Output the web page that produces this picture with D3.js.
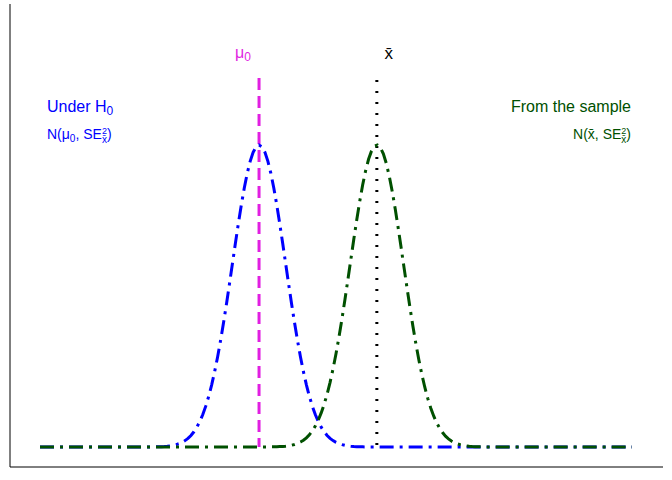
<!DOCTYPE html><html><head><script src="https://cdn.jsdelivr.net/npm/d3@7"></script>
<style>body{margin:0}text{font-family:"Liberation Sans",Arial,sans-serif}</style></head><body>
<svg width="672" height="480"></svg>
<script>
const xs = d3.range(0, 10.001, 0.05);
const mu0 = 3.7, xbar = 5.69, sd = 0.45;
const dens = (x,m)=>Math.exp(-0.5*((x-m)/sd)**2)/(sd*Math.sqrt(2*Math.PI));
const svg = d3.select("svg");
const x = d3.scaleLinear().domain([0,10]).range([40,632]);
const y = d3.scaleLinear().domain([0, 1/(sd*Math.sqrt(2*Math.PI))]).range([447,145]);
svg.append("line").attr("x1",10).attr("x2",10).attr("y1",4).attr("y2",467).attr("stroke","#000");
svg.append("line").attr("x1",10).attr("x2",663).attr("y1",467).attr("y2",467).attr("stroke","#000");
const line = m => d3.line().x(d=>x(d)).y(d=>y(dens(d,m)))(xs);
svg.append("line").attr("x1",x(mu0)).attr("x2",x(mu0)).attr("y1",78).attr("y2",447).attr("stroke","#E11FE1").attr("stroke-width",3).attr("stroke-dasharray","12,6");
svg.append("line").attr("x1",x(xbar)).attr("x2",x(xbar)).attr("y1",80).attr("y2",447).attr("stroke","#000").attr("stroke-width",3).attr("stroke-dasharray","2,9");
svg.append("path").attr("d",line(mu0)).attr("fill","none").attr("stroke","#0000FF").attr("stroke-width",3).attr("stroke-dasharray","14,6,3,6");
svg.append("path").attr("d",line(xbar)).attr("fill","none").attr("stroke","#005000").attr("stroke-width",3).attr("stroke-dasharray","14,6,3,6");
// parts: [text, size, dy(offset from baseline), stacked?]
function label(px,py,col,anchor,parts){
  const g=svg.append("g"); let cx=0, last=0;
  parts.forEach(p=>{
    const e=g.append("text").attr("y",py+(p[2]||0)).attr("fill",col).attr("font-size",p[1]).text(p[0]);
    if(p[3]){ e.attr("x",px+cx-last); const w=e.node().getComputedTextLength(); cx=cx-last+Math.max(w,last); last=0; }
    else { e.attr("x",px+cx); const w=e.node().getComputedTextLength(); last=w; cx+=w; }
  });
  if(anchor==="end") g.attr("transform",`translate(${-cx},0)`);
  if(anchor==="middle") g.attr("transform",`translate(${-cx/2},0)`);
}
label(x(mu0)-16,58,"#E11FE1","middle",[["μ",16],["0",12,3]]);
label(x(xbar)+12,59,"#000","middle",[["x̄",17]]);
label(47,112,"#0000FF","start",[["Under H",16],["0",12,3]]);
label(47,139,"#0000FF","start",[["N(μ",14],["0",10,3],[", SE",14],["2",9,-5],["x̄",10,4,true],[")",14]]);
label(631,112,"#005000","end",[["From the sample",16]]);
label(631,139,"#005000","end",[["N(x̄, SE",14],["2",9,-5],["x̄",10,4,true],[")",14]]);
</script></body></html>
